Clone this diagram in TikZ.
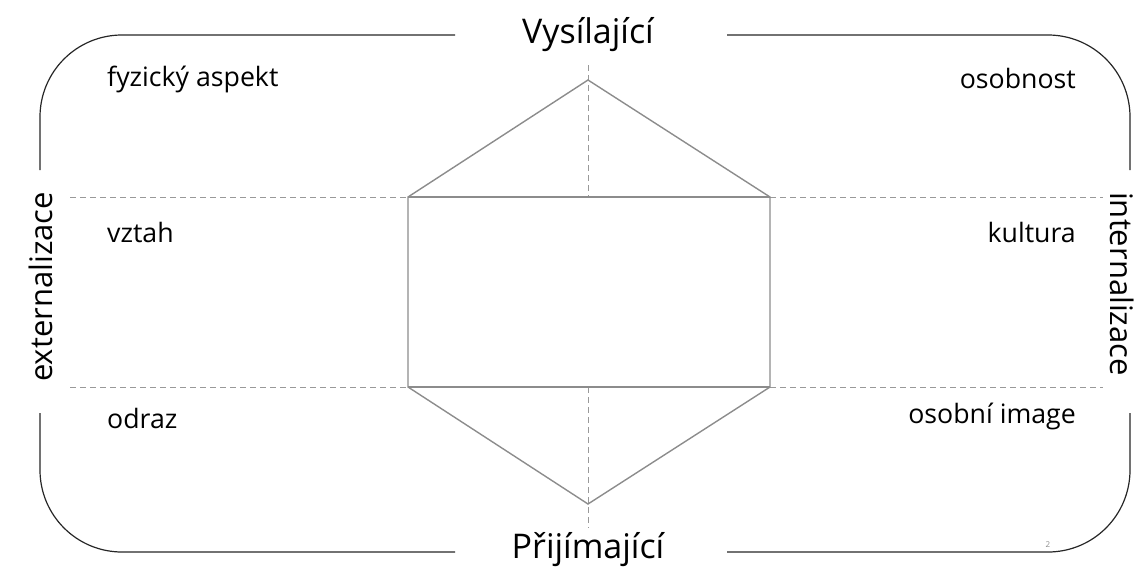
\documentclass[tikz,border=0pt]{standalone}
\usepackage{fontspec}
\setmainfont{Open Sans}
\begin{document}
\begin{tikzpicture}[x=1pt,y=-1pt,
  frame/.style={draw=black!85,line width=1.2pt,rounded corners=82pt},
  guide/.style={draw=black!40,line width=0.9pt,dash pattern=on 6pt off 4pt},
  hexline/.style={draw=black!45,line width=1.4pt,line join=miter},
  title/.style={font=\fontsize{34}{40}\selectfont,anchor=base,inner sep=0pt},
  side/.style={font=\fontsize{31}{36}\selectfont,inner sep=0pt},
  label/.style={font=\fontsize{26.7}{32}\selectfont,anchor=base west,inner sep=0pt},
  rlabel/.style={font=\fontsize{26.7}{32}\selectfont,anchor=base east,inner sep=0pt},
  pageno/.style={font=\fontsize{8}{9}\selectfont,text=black!45,inner sep=0pt}]
\useasboundingbox (0,0) rectangle (1139,570);

% headings on the outer frame
\node[title] (send) at (588,43) {Vysílající};
\node[title] (recv) at (588,558) {Přijímající};
\node[side,rotate=90] (ext) at (41,287) {externalizace};
\node[side,rotate=-90] (int) at (1122,284) {internalizace};

% outer rounded frame, broken where the headings sit
\coordinate (tl) at (455,35);  \coordinate (tr) at (727,35);
\coordinate (bl) at (455,552); \coordinate (br) at (727,552);
\coordinate (lu) at (40,170);  \coordinate (ld) at (40,413);
\coordinate (ru) at (1130,170); \coordinate (rd) at (1130,413);
\draw[frame] (tl) -- (40,35) -- (lu);
\draw[frame] (ld) -- (40,552) -- (bl);
\draw[frame] (tr) -- (1130,35) -- (ru);
\draw[frame] (rd) -- (1130,552) -- (br);

% hexagon corners
\coordinate (apex) at (588,80);
\coordinate (foot) at (588,504);
\coordinate (a) at (408,197); \coordinate (b) at (770,197);
\coordinate (c) at (770,387); \coordinate (d) at (408,387);

% dashed guide lines
\coordinate (gl1) at (70,197);  \coordinate (gr1) at (1103,197);
\coordinate (gl2) at (70,387);  \coordinate (gr2) at (1103,387);
\coordinate (vt) at (588,65);   \coordinate (vtb) at (588,197);
\coordinate (vb) at (588,387);  \coordinate (vbb) at (588,528);
\draw[guide] (gl1) -- (a);  \draw[guide] (b) -- (gr1);
\draw[guide] (gl2) -- (d);  \draw[guide] (c) -- (gr2);
\draw[guide] (vt) -- (vtb); \draw[guide] (vb) -- (vbb);

% hexagon with its middle rectangle
\draw[hexline] (a) -- (apex) -- (b) -- (c) -- (foot) -- (d) -- cycle;
\draw[hexline] (a) -- (b);
\draw[hexline] (d) -- (c);

% quadrant labels
\node[label] (phys) at (107,86) {fyzický aspekt};
\node[label] (rel) at (107,242) {vztah};
\node[label] (refl) at (107,428) {odraz};
\node[rlabel] (pers) at (1076,88) {osobnost};
\node[rlabel] (cult) at (1076,242) {kultura};
\node[rlabel] (img) at (1076,423) {osobní image};

\node[pageno] (num) at (1048,545) {2};
\end{tikzpicture}
\end{document}
